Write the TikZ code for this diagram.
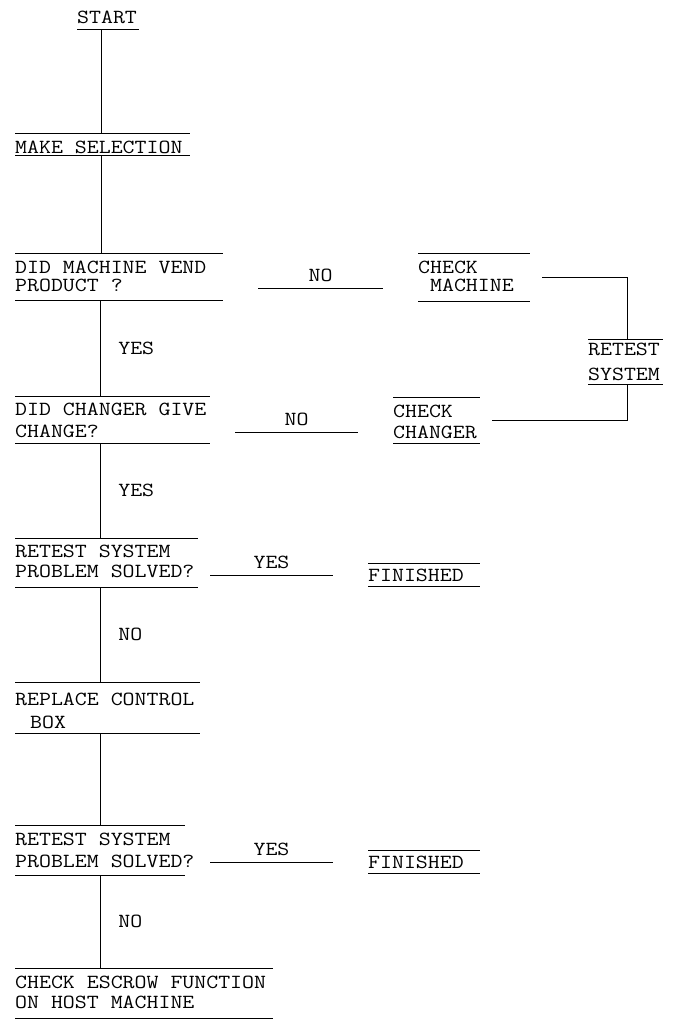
\documentclass[tikz,border=0pt]{standalone}
\usepackage{fontspec}
\newfontfamily\twf{Latin Modern Mono}[FakeStretch=1.16]
\newcommand\tst[1]{\rule{0pt}{#1pt}}
\newcommand\bst[1]{\rule[-#1pt]{0pt}{#1pt}}
\begin{document}
\begin{tikzpicture}[x=1pt,y=-1pt]
\tikzset{
  cn/.style={line width=0.7pt},
  rl/.style={draw, line width=0.7pt},
  txt/.style={font={\twf\fontsize{20}{20}\selectfont}, inner sep=0pt},
  blk/.style={txt, anchor=north west, align=left,
    append after command={(\tikzlastnode.north west) edge[rl] ([xshift=#1]\tikzlastnode.north west)
      (\tikzlastnode.south west) edge[rl] ([xshift=#1]\tikzlastnode.south west)}},
  ublk/.style={txt, anchor=north west, align=left,
    append after command={(\tikzlastnode.south west) edge[rl] ([xshift=#1]\tikzlastnode.south west)}},
  vlbl/.style={txt, anchor=west, xshift=18pt},
  hlbl/.style={txt, above=6pt},
}
\fill[white] (0,0) rectangle (680,1020);
\useasboundingbox (0,0) rectangle (680,1020);

\node[ublk=62pt] (st) at (77,9) {\tst{14}START\bst{6}};
\node[blk=175pt] (mk) at (15,133) {\tst{20}MAKE SELECTION\bst{2}};
\node[blk=208pt] (dm) at (15,253) {\tst{20}DID MACHINE VEND\\[-2pt]PRODUCT ?\bst{9}};
\node[blk=112pt] (cm) at (418,253) {\tst{20}CHECK\\[-2pt]\hphantom{X}MACHINE\bst{10}};
\node[blk=75pt] (rs) at (588,339) {\tst{16}RETEST\\[5pt]SYSTEM\bst{4}};
\node[blk=195pt] (dc) at (15,396) {\tst{19}DID CHANGER GIVE\\[2pt]CHANGE?\bst{6}};
\node[blk=87pt] (cc) at (393,397) {\tst{20}CHECK\\[1pt]CHANGER\bst{5}};
\node[blk=183pt] (r1) at (15,538) {\tst{19}RETEST SYSTEM\\PROBLEM SOLVED?\bst{10}};
\node[blk=112pt] (f1) at (368,563) {\tst{18}FINISHED\bst{5}};
\node[blk=185pt] (rp) at (15,682) {\tst{23}REPLACE CONTROL\\[3pt]\hspace*{15pt}BOX\bst{5}};
\node[blk=170pt] (r2) at (15,825) {\tst{20}RETEST SYSTEM\\[2pt]PROBLEM SOLVED?\bst{8}};
\node[blk=112pt] (f2) at (368,850) {\tst{18}FINISHED\bst{5}};
\node[blk=258pt] (ce) at (15,968) {\tst{20}CHECK ESCROW FUNCTION\\ON HOST MACHINE\bst{10}};
\draw[line width=1.6pt] (ce.south west) -- ([xshift=258pt]ce.south west);

% vertical flow
\draw[cn] ([xshift=24pt]st.south west) -- ([xshift=86pt]mk.north west);
\draw[cn] ([xshift=86pt]mk.south west) -- ([xshift=86pt]dm.north west);
\draw[cn] ([xshift=85pt]dm.south west) -- node[vlbl]{YES} ([xshift=85pt]dc.north west);
\draw[cn] ([xshift=85pt]dc.south west) -- node[vlbl]{YES} ([xshift=85pt]r1.north west);
\draw[cn] ([xshift=85pt]r1.south west) -- node[vlbl]{NO} ([xshift=85pt]rp.north west);
\draw[cn] ([xshift=85pt]rp.south west) -- ([xshift=85pt]r2.north west);
\draw[cn] ([xshift=85pt]r2.south west) -- node[vlbl]{NO} ([xshift=85pt]ce.north west);

% horizontal branches
\draw[cn] ([xshift=243pt,yshift=12pt]dm.south west) -- node[hlbl]{NO} ([xshift=-35pt,yshift=13pt]cm.south west);
\draw[cn] ([xshift=220pt,yshift=11pt]dc.south west) -- node[hlbl]{NO} ([xshift=-35pt,yshift=11pt]cc.south west);
\draw[cn] ([xshift=195pt,yshift=12pt]r1.south west) -- node[hlbl]{YES} ([xshift=-35pt,yshift=11pt]f1.south west);
\draw[cn] ([xshift=195pt,yshift=13pt]r2.south west) -- node[hlbl]{YES} ([xshift=-35pt,yshift=11pt]f2.south west);

% retest loop
\draw[cn] ([xshift=124pt]cm.west) -| ([xshift=39pt]rs.north west);
\draw[cn] ([xshift=39pt]rs.south west) |- ([xshift=99pt]cc.west);
\end{tikzpicture}
\end{document}
